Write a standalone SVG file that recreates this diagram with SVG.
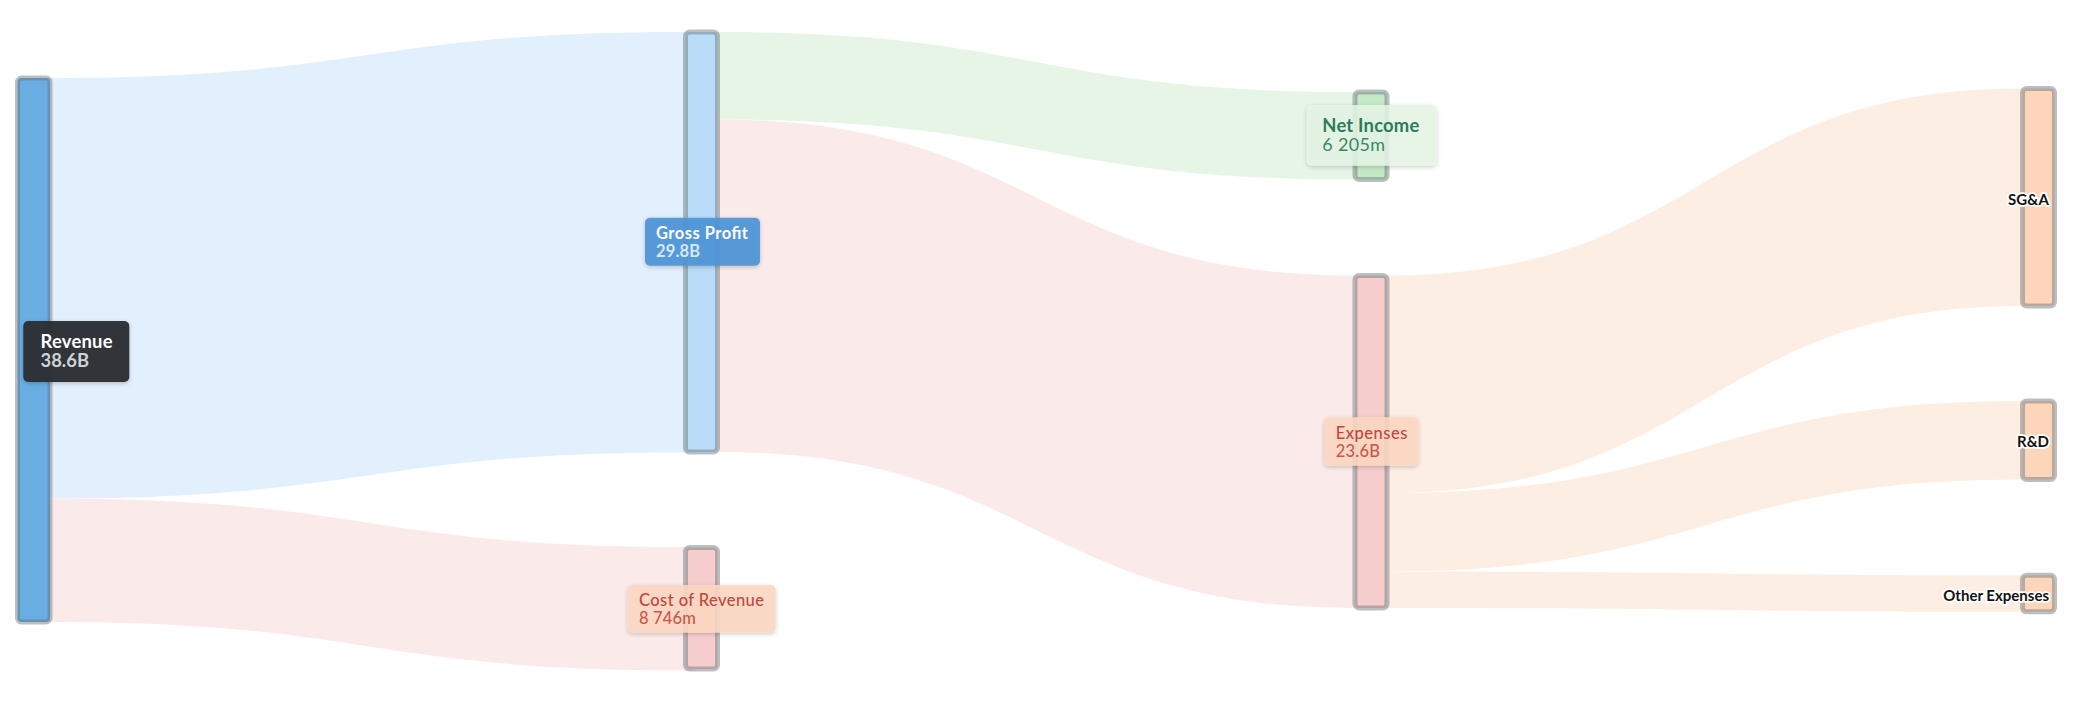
<svg xmlns="http://www.w3.org/2000/svg" width="2081" height="707" viewBox="0 0 2081 707">
<defs>
<style>
.lbl{font-family:Lato,"Liberation Sans",sans-serif}
.node{stroke:rgba(105,112,120,0.45);stroke-width:5}
.box{filter:url(#sh)}
.tl{font-size:18.4px;font-weight:700}
.ts{font-size:16.5px;font-weight:500}
.tb{font-size:16.5px;font-weight:700}
.tgt{font-family:Lato,"Liberation Sans",sans-serif;font-size:15px;font-weight:700;fill:#111;stroke:#fff;stroke-width:3.5;stroke-linejoin:round;paint-order:stroke;text-anchor:end}
</style>
<filter id="sh" x="-20%" y="-30%" width="140%" height="170%">
<feDropShadow dx="0" dy="1.5" stdDeviation="2" flood-color="#000" flood-opacity="0.22"/>
</filter>
</defs>
<rect width="2081" height="707" fill="#ffffff"/>
<g id="connectors">
<path id="l-rev-gp" fill="#e2effd" d="M40,78 L50,78 C367.75,78 367.75,32 685.5,32 L695.5,32 L695.5,452.5 L685.5,452.5 C367.75,452.5 367.75,498.5 50,498.5 L40,498.5 Z"/>
<path id="l-rev-cost" fill="#fbeaea" d="M40,498.5 L50,498.5 C367.75,498.5 367.75,547 685.5,547 L695.5,547 L695.5,670.5 L685.5,670.5 C367.75,670.5 367.75,622 50,622 L40,622 Z"/>
<path id="l-gp-net" fill="#e7f5e7" d="M707.5,32 L717.5,32 C1036.25,32 1036.25,92 1355,92 L1365,92 L1365,179.5 L1355,179.5 C1036.25,179.5 1036.25,119.5 717.5,119.5 L707.5,119.5 Z"/>
<path id="l-gp-exp" fill="#fbeaea" d="M707.5,119.5 L717.5,119.5 C1036.25,119.5 1036.25,275.5 1355,275.5 L1365,275.5 L1365,608 L1355,608 C1036.25,608 1036.25,452 717.5,452 L707.5,452 Z"/>
<path id="l-exp-sga" fill="#fdeee4" d="M1377,275.5 L1387,275.5 C1704.75,275.5 1704.75,88.5 2022.5,88.5 L2032.5,88.5 L2032.5,306 L2022.5,306 C1704.75,306 1704.75,493 1387,493 L1377,493 Z"/>
<path id="l-exp-rd" fill="#fdeee4" d="M1377,493 L1387,493 C1704.75,493 1704.75,401 2022.5,401 L2032.5,401 L2032.5,479.5 L2022.5,479.5 C1704.75,479.5 1704.75,571.5 1387,571.5 L1377,571.5 Z"/>
<path id="l-exp-other" fill="#fdeee4" d="M1377,571.5 L1387,571.5 C1704.75,571.5 1704.75,575.3 2022.5,575.3 L2032.5,575.3 L2032.5,611.8 L2022.5,611.8 C1704.75,611.8 1704.75,608 1387,608 L1377,608 Z"/>
</g>
<g id="node-sga"><rect class="node" x="2022.5" y="88.5" width="32" height="217.5" rx="4" fill="#fdd5bb"/></g>
<g id="node-rd"><rect class="node" x="2022.5" y="401" width="32" height="78.5" rx="4" fill="#fdd5bb"/></g>
<g id="node-other"><rect class="node" x="2022.5" y="575.3" width="32" height="36.5" rx="4" fill="#fdd5bb"/></g>
<g id="node-revenue"><rect class="node" x="17.5" y="78" width="32.5" height="544" rx="4" fill="#69ade3"/></g>
<g id="node-gross-profit"><rect class="node" x="685.5" y="32" width="32" height="420" rx="4" fill="#b9ddf8"/></g>
<g id="node-cost"><rect class="node" x="685.5" y="547.5" width="32" height="121.5" rx="4" fill="#f5cdcd"/></g>
<g id="node-net-income"><rect class="node" x="1355" y="92" width="32" height="87.5" rx="4" fill="#c5e9c5"/></g>
<g id="node-expenses"><rect class="node" x="1355" y="275.5" width="32" height="332.5" rx="4" fill="#f5cdcd"/></g>
<g id="label-revenue" class="lbl">
<rect class="box" x="23.3" y="321" width="106" height="61" rx="5" fill="#2a2e32" fill-opacity="0.96"/>
<text class="tl" x="40.5" y="348.3" fill="#ffffff" textLength="72">Revenue</text>
<text class="tl" x="40.5" y="366.5" fill="#cfd3d7" textLength="48.5">38.6B</text>
</g>
<g id="label-gross-profit" class="lbl">
<rect class="box" x="645" y="217.7" width="115" height="48" rx="5" fill="#4f95d7" fill-opacity="0.93"/>
<text class="tb" x="656" y="239.3" fill="#ffffff" textLength="92">Gross Profit</text>
<text class="tb" x="656" y="256.8" fill="#d8e8f7" font-size="16" textLength="44">29.8B</text>
</g>
<g id="label-cost" class="lbl">
<rect class="box" x="627.7" y="585" width="148" height="47.7" rx="5" fill="#fdd8c3" fill-opacity="0.88"/>
<text class="ts" x="639" y="606.3" fill="#c2473c" textLength="125">Cost of Revenue</text>
<text class="ts" x="639" y="623.8" fill="#c9574a" textLength="57">8 746m</text>
</g>
<g id="label-net-income" class="lbl">
<rect class="box" x="1306.7" y="105" width="130" height="60.7" rx="5" fill="#e6f7e6" fill-opacity="0.85"/>
<text class="tl" x="1322.3" y="132.3" fill="#2e7a5c" font-size="18.5" textLength="97">Net Income</text>
<text x="1322.3" y="151" font-size="18" fill="#3a8766" textLength="62.7">6 205m</text>
</g>
<g id="label-expenses" class="lbl">
<rect class="box" x="1324" y="417.3" width="94.3" height="48.4" rx="5" fill="#fdd8c3" fill-opacity="0.88"/>
<text class="ts" x="1335.7" y="439.3" fill="#c2473c" textLength="71.6">Expenses</text>
<text class="ts" x="1335.7" y="457" fill="#c9574a" textLength="44.3">23.6B</text>
</g>
<g id="label-targets">
<text class="tgt" x="2049" y="205">SG&amp;A</text>
<text class="tgt" x="2049" y="446.7">R&amp;D</text>
<text class="tgt" x="2049" y="601">Other Expenses</text>
</g>
</svg>
